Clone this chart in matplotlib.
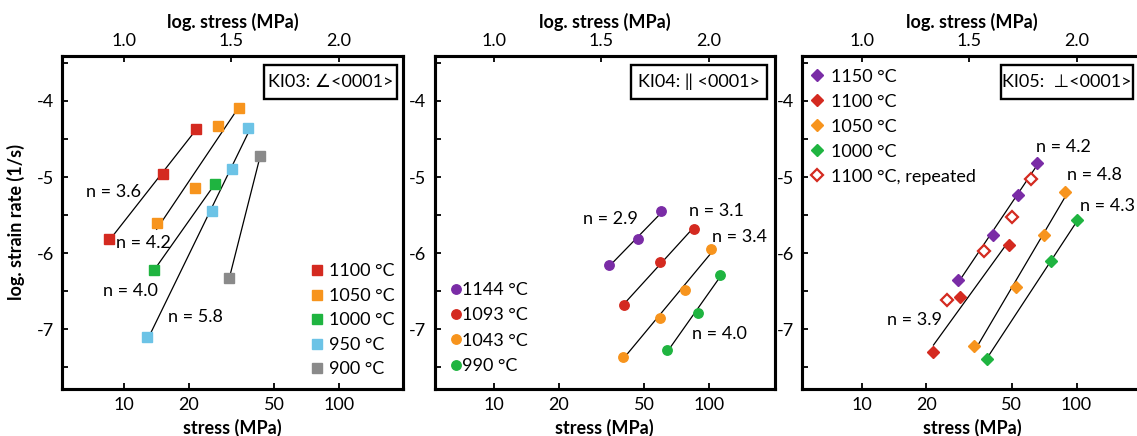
import numpy as np
import matplotlib
matplotlib.use("Agg")
import matplotlib.pyplot as plt
from matplotlib.patches import Rectangle
from matplotlib.ticker import FixedLocator, NullLocator, MultipleLocator, FixedFormatter

plt.rcParams['font.family'] = ['Lato', 'DejaVu Sans']
plt.rcParams['axes.unicode_minus'] = False

# ---------------- data: stress (MPa) vs. log10 strain rate (1/s) ----------------
# KI03, oblique to <0001>
ki03_1100_stress = [8.5, 15.2, 21.7]
ki03_1100_rate = [-5.82, -4.96, -4.37]
ki03_1050_stress = [14.2, 21.5, 27.5, 34.4]
ki03_1050_rate = [-5.60, -5.15, -4.33, -4.09]
ki03_1000_stress = [13.8, 26.6]
ki03_1000_rate = [-6.22, -5.09]
ki03_950_stress = [12.8, 25.8, 31.9, 37.8]
ki03_950_rate = [-7.10, -5.45, -4.90, -4.36]
ki03_900_stress = [30.9, 43.0]
ki03_900_rate = [-6.33, -4.73]
ki03_labels = ['1100 °C', '1050 °C', '1000 °C', '950 °C', '900 °C']
ki03_n = [3.6, 4.2, 4.0, 5.8, None]

# KI04, parallel to <0001>
ki04_1144_stress = [34.3, 46.9, 60.0]
ki04_1144_rate = [-6.155, -5.82, -5.45]
ki04_1093_stress = [40.4, 59.4, 84.9]
ki04_1093_rate = [-6.675, -6.115, -5.68]
ki04_1043_stress = [39.7, 59.2, 77.1, 101.9]
ki04_1043_rate = [-7.36, -6.846, -6.48, -5.94]
ki04_990_stress = [63.8, 88.9, 112.5]
ki04_990_rate = [-7.27, -6.78, -6.29]
ki04_labels = ['1144 °C', '1093 °C', '1043 °C', '990 °C']
ki04_n = [2.9, 3.1, 3.4, 4.0]

# KI05, perpendicular to <0001>
ki05_1150_stress = [28.2, 40.8, 53.3, 65.5]
ki05_1150_rate = [-6.35, -5.76, -5.23, -4.82]
ki05_1100_stress = [21.6, 28.8, 48.5]
ki05_1100_rate = [-7.30, -6.575, -5.89]
ki05_1050_stress = [33.4, 52.5, 70.8, 88.5]
ki05_1050_rate = [-7.22, -6.45, -5.765, -5.195]
ki05_1000_stress = [38.3, 76.0, 100.7]
ki05_1000_rate = [-7.39, -6.10, -5.57]
ki05_1100r_stress = [24.9, 37.2, 50.2, 61.4]
ki05_1100r_rate = [-6.62, -5.975, -5.53, -5.03]
ki05_labels = ['1150 °C', '1100 °C', '1050 °C', '1000 °C', '1100 °C, repeated']
ki05_n = [4.2, 3.9, 4.8, 4.3, None]

panel_titles = ['KI03: \u2220<0001>', 'KI04: \u2016 <0001>', 'KI05:  \u22a5<0001>']
top_ticks = [1.0, 1.5, 2.0]
bottom_ticks = [10, 20, 50, 100]
y_ticks = [-4, -5, -6, -7]

# ---------------- styling ----------------
RED = '#d42a20'
ORANGE = '#f7941d'
GREEN = '#1fb440'
BLUE = '#6cc3e6'
GREY = '#8a8a8a'
PURPLE = '#7a2ca6'

# positions of the "n = ..." annotations (stress, log rate)
ki03_npos = [(8.9, -5.20), (12.3, -5.87), (10.7, -6.50), (21.6, -6.84)]
ki04_npos = [(34.9, -5.55), (108.6, -5.44), (139.3, -5.79), (112.5, -7.06)]
ki05_npos = [(87.0, -4.60), (17.6, -6.88), (121.3, -4.98), (140.0, -5.38)]

FS = 13


def fit_line(ax, stress, rate, n):
    x = np.log10(stress)
    y = np.asarray(rate)
    slope = n if n is not None else np.polyfit(x, y, 1)[0]
    xs = np.array([x.min(), x.max()])
    ys = y.mean() + slope * (xs - x.mean())
    ax.plot(10 ** xs, ys, color='black', lw=0.9, zorder=2)


def setup_axes(ax, xlog_lim, title, box_x0, box_w):
    ax.set_xscale('log')
    ax.set_xlim(10 ** xlog_lim[0], 10 ** xlog_lim[1])
    ax.set_ylim(-7.785, -3.41)
    ax.xaxis.set_major_locator(FixedLocator(bottom_ticks))
    ax.xaxis.set_major_formatter(FixedFormatter([str(t) for t in bottom_ticks]))
    ax.xaxis.set_minor_locator(NullLocator())
    ax.yaxis.set_major_locator(FixedLocator(y_ticks))
    ax.yaxis.set_major_formatter(FixedFormatter([str(t) for t in y_ticks]))
    ax.yaxis.set_minor_locator(MultipleLocator(0.5))
    ax.tick_params(axis='both', which='both', direction='in', length=4, width=1.3,
                   labelsize=FS, colors='black', pad=6)
    ax.tick_params(axis='y', which='minor', length=4)
    for s in ax.spines.values():
        s.set_linewidth(2.2)
    ax.set_xlabel('stress (MPa)', fontsize=FS, fontweight='bold', labelpad=4)

    top = ax.twiny()
    top.set_xlim(*xlog_lim)
    top.xaxis.set_major_locator(FixedLocator(top_ticks))
    top.xaxis.set_major_formatter(FixedFormatter(['%.1f' % t for t in top_ticks]))
    top.xaxis.set_minor_locator(NullLocator())
    top.tick_params(axis='x', direction='in', length=4, width=1.3, labelsize=FS, pad=5)
    for s in top.spines.values():
        s.set_linewidth(2.2)
    top.set_xlabel('log. stress (MPa)', fontsize=FS, fontweight='bold', labelpad=4)

    ax.add_patch(Rectangle((box_x0, 0.871), box_w, 0.102, transform=ax.transAxes,
                           fill=False, lw=1.7, edgecolor='black', zorder=5))
    ax.text(box_x0 + box_w / 2, 0.922, title, transform=ax.transAxes,
            ha='center', va='center', fontsize=FS, zorder=6)


fig = plt.figure(figsize=(11.37, 4.36), dpi=100)
W, H = 1137.0, 436.0
bot = (H - 389) / H
hgt = 333 / H
ax1 = fig.add_axes([62 / W, bot, 341 / W, hgt])
ax2 = fig.add_axes([434.7 / W, bot, 340 / W, hgt])
ax3 = fig.add_axes([802.3 / W, bot, 340 / W, hgt])

# ---------- KI03 ----------
ki03_series = [(ki03_1100_stress, ki03_1100_rate, RED),
               (ki03_1050_stress, ki03_1050_rate, ORANGE),
               (ki03_1000_stress, ki03_1000_rate, GREEN),
               (ki03_950_stress, ki03_950_rate, BLUE),
               (ki03_900_stress, ki03_900_rate, GREY)]
for (s, r, c), lab, n in zip(ki03_series, ki03_labels, ki03_n):
    fit_line(ax1, s, r, n)
    ax1.plot(s, r, ls='none', marker='s', ms=7.2, mfc=c, mec=c, label=lab, zorder=3)
for (px, py), n in zip(ki03_npos, ki03_n):
    ax1.text(px, py, 'n = %.1f' % n, ha='center', va='center', fontsize=FS)
setup_axes(ax1, (0.712, 2.298), panel_titles[0], 0.592, 0.390)
ax1.set_ylabel('log. strain rate (1/s)', fontsize=FS, fontweight='bold', labelpad=8)
ax1.legend(loc='lower right', bbox_to_anchor=(0.975, 0.035), frameon=False, fontsize=FS,
           handlelength=0.6, handletextpad=0.35, labelspacing=0.47, borderpad=0,
           borderaxespad=0)

# ---------- KI04 ----------
ki04_series = [(ki04_1144_stress, ki04_1144_rate, PURPLE),
               (ki04_1093_stress, ki04_1093_rate, RED),
               (ki04_1043_stress, ki04_1043_rate, ORANGE),
               (ki04_990_stress, ki04_990_rate, GREEN)]
for (s, r, c), lab, n in zip(ki04_series, ki04_labels, ki04_n):
    fit_line(ax2, s, r, n)
    ax2.plot(s, r, ls='none', marker='o', ms=6.8, mfc=c, mec=c, label=lab, zorder=3)
for (px, py), n in zip(ki04_npos, ki04_n):
    ax2.text(px, py, 'n = %.1f' % n, ha='center', va='center', fontsize=FS)
setup_axes(ax2, (0.724, 2.306), panel_titles[1], 0.578, 0.398)
ax2.legend(loc='lower left', bbox_to_anchor=(0.05, 0.045), frameon=False, fontsize=FS,
           handlelength=0.5, handletextpad=0.05, labelspacing=0.52, borderpad=0,
           borderaxespad=0)

# ---------- KI05 ----------
ki05_series = [(ki05_1150_stress, ki05_1150_rate, PURPLE, True),
               (ki05_1100_stress, ki05_1100_rate, RED, True),
               (ki05_1050_stress, ki05_1050_rate, ORANGE, True),
               (ki05_1000_stress, ki05_1000_rate, GREEN, True),
               (ki05_1100r_stress, ki05_1100r_rate, RED, False)]
for (s, r, c, filled), lab, n in zip(ki05_series, ki05_labels, ki05_n):
    if n is not None:
        fit_line(ax3, s, r, n)
    ax3.plot(s, r, ls='none', marker='D', ms=6.5 if filled else 6.0,
             mfc=c if filled else 'white', mec=c, mew=1.0 if filled else 1.6,
             label=lab, zorder=3)
for (px, py), n in zip(ki05_npos, [n for n in ki05_n if n is not None]):
    ax3.text(px, py, 'n = %.1f' % n, ha='center', va='center', fontsize=FS)
setup_axes(ax3, (0.724, 2.306), panel_titles[2], 0.5835, 0.390)
ax3.legend(loc='upper left', bbox_to_anchor=(0.022, 0.962), frameon=False, fontsize=FS,
           handlelength=0.8, handletextpad=0.4, labelspacing=0.5, borderpad=0,
           borderaxespad=0)

fig.savefig('out.png', dpi=100)
